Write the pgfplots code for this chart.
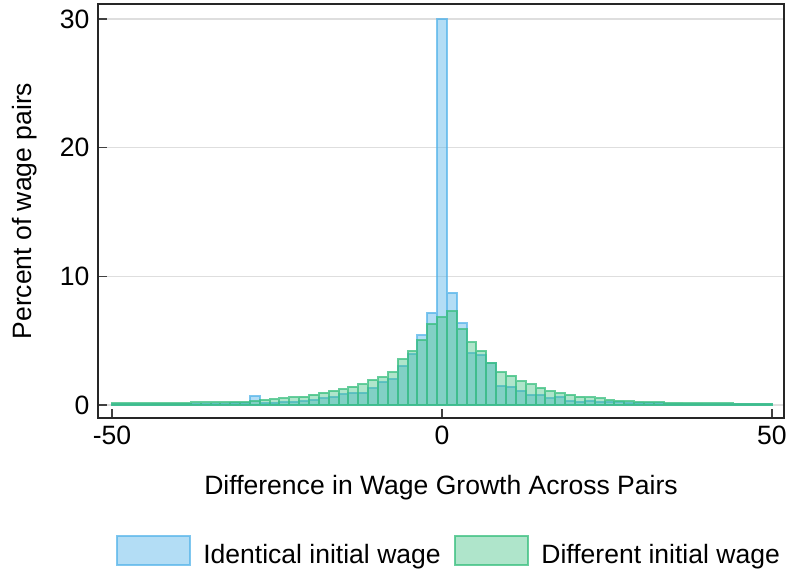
\documentclass[border=0pt]{standalone}
\usepackage{fontspec}
\setmainfont{Liberation Sans}
\usepackage{pgfplots}
\usepackage{pgfplotstable}
\pgfplotsset{compat=1.18}

\definecolor{idblue}{RGB}{86,180,233}
\definecolor{dfgreen}{RGB}{55,190,125}
\newcommand{\chartfont}{\fontsize{19.9}{24}\selectfont}

% bin centre, percent (identical initial wage), percent (different initial wage)
\pgfplotstableread{
x       blue   green
-49.254 0.08   0.12
-47.761 0.08   0.12
-46.269 0.08   0.12
-44.776 0.08   0.13
-43.284 0.09   0.14
-41.791 0.09   0.15
-40.299 0.09   0.15
-38.806 0.10   0.16
-37.313 0.10   0.20
-35.821 0.10   0.20
-34.328 0.11   0.22
-32.836 0.11   0.22
-31.343 0.12   0.26
-29.851 0.13   0.27
-28.358 0.70   0.31
-26.866 0.15   0.39
-25.373 0.18   0.44
-23.881 0.23   0.52
-22.388 0.27   0.60
-20.896 0.30   0.65
-19.403 0.39   0.80
-17.910 0.52   0.96
-16.418 0.63   1.10
-14.925 0.82   1.21
-13.433 0.94   1.42
-11.940 0.97   1.60
-10.448 1.30   1.94
-8.955  1.78   2.15
-7.463  2.00   2.54
-5.970  3.02   3.55
-4.478  3.95   4.17
-2.985  5.42   5.05
-1.493  7.18   6.30
0.000   30.00  6.81
1.493   8.73   7.27
2.985   6.37   5.88
4.478   4.02   4.87
5.970   3.90   4.20
7.463   3.25   3.30
8.955   1.46   2.56
10.448  1.43   2.28
11.940  1.12   1.84
13.433  0.78   1.60
14.925  0.78   1.33
16.418  0.52   1.05
17.910  0.60   0.91
19.403  0.31   0.78
20.896  0.26   0.66
22.388  0.34   0.60
23.881  0.25   0.52
25.373  0.26   0.40
26.866  0.20   0.34
28.358  0.15   0.30
29.851  0.14   0.26
31.343  0.13   0.23
32.836  0.12   0.20
34.328  0.11   0.18
35.821  0.10   0.18
37.313  0.10   0.15
38.806  0.09   0.14
40.299  0.09   0.13
41.791  0.08   0.12
43.284  0.08   0.12
44.776  0.08   0.11
46.269  0.07   0.11
47.761  0.07   0.10
49.254  0.07   0.10
}\bins

\begin{document}
\begin{tikzpicture}
\useasboundingbox (-73.5pt,-120.75pt) rectangle (516.75pt,313.5pt);
\begin{axis}[
  at={(0pt,0pt)}, anchor=south west,
  width=514.5pt, height=310.5pt, scale only axis,
  xmin=-52.12, xmax=51.82, ymin=-1.01, ymax=31.16,
  xtick={-50,0,50}, xticklabels={-50,0,50},
  ytick={0,10,20,30}, yticklabels={0,10,20,30},
  xtick pos=bottom, ytick pos=left,
  tick align=inside,
  major tick length=6.5pt,
  tick style={black!75, line width=1pt},
  axis line style={black!85, line width=1pt},
  ymajorgrids,
  grid style={black!13, line width=1.2pt},
  tick label style={font=\chartfont},
  xticklabel shift=2.5pt,
  yticklabel shift=3pt,
  label style={font=\chartfont},
  xlabel={Difference in Wage Growth Across Pairs},
  ylabel={Percent of wage pairs},
  xlabel style={at={(axis description cs:0.5,-0.169)}, anchor=center},
  ylabel style={at={(axis description cs:-0.1064,0.5)}, anchor=center},
  legend columns=2,
  legend cell align=left,
  legend style={font=\chartfont, draw=none, fill=none,
    at={(axis description cs:0.512,-0.322)}, anchor=center,
    /tikz/every odd column/.append style={column sep=7pt},
    /tikz/every even column/.append style={column sep=8pt}},
]
\addplot[ybar, bar width=1.49254, bar shift=0pt,
  fill=idblue, fill opacity=0.45, draw=idblue, draw opacity=0.75,
  line width=1.5pt,
  legend image code/.code={\draw[fill=idblue, fill opacity=0.45,
    draw=idblue, draw opacity=0.75, line width=1.5pt]
    (0pt,-8pt) rectangle (55pt,14pt);}]
  table[x=x, y=blue] {\bins};
\addlegendentry{Identical initial wage}
\addplot[ybar, bar width=1.49254, bar shift=0pt,
  fill=dfgreen, fill opacity=0.40, draw=dfgreen, draw opacity=0.75,
  line width=1.5pt,
  legend image code/.code={\draw[fill=dfgreen, fill opacity=0.40,
    draw=dfgreen, draw opacity=0.75, line width=1.5pt]
    (0pt,-8pt) rectangle (55pt,14pt);}]
  table[x=x, y=green] {\bins};
\addlegendentry{Different initial wage}
\end{axis}
\end{tikzpicture}
\end{document}
